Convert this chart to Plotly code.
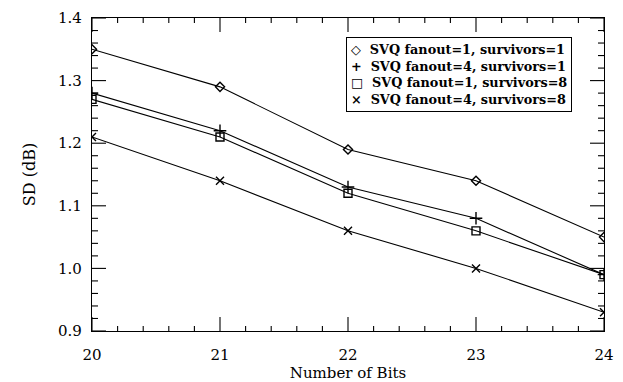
import plotly.graph_objects as go

bits = [20, 21, 22, 23, 24]
sd_f1_s1 = [1.35, 1.29, 1.19, 1.14, 1.05]
sd_f4_s1 = [1.28, 1.22, 1.13, 1.08, 0.99]
sd_f1_s8 = [1.27, 1.21, 1.12, 1.06, 0.99]
sd_f4_s8 = [1.21, 1.14, 1.06, 1.00, 0.93]
names = ["SVQ fanout=1, survivors=1", "SVQ fanout=4, survivors=1",
         "SVQ fanout=1, survivors=8", "SVQ fanout=4, survivors=8"]
legend_glyphs = ["◇", "+", "□", "×"]
symbols = ["diamond-open", "cross-thin-open", "square-open", "x-thin-open"]
sizes = [7, 9, 8, 8]

X_RANGE = [20, 24]
Y_RANGE = [0.9, 1.4]
x_major = [20, 21, 22, 23, 24]
y_major = [0.9, 1.0, 1.1, 1.2, 1.3, 1.4]
x_minor = [round(20 + 0.2 * i, 2) for i in range(21) if i % 5]
y_minor = [round(0.9 + 0.02 * i, 3) for i in range(26) if i % 5]

fig = go.Figure()
series = [sd_f1_s1, sd_f4_s1, sd_f1_s8, sd_f4_s8]
for ys, nm, sym, sz in zip(series, names, symbols, sizes):
    fig.add_trace(go.Scatter(x=bits, y=ys, name=nm, mode="lines+markers",
                             showlegend=False,
                             line=dict(color="black", width=1.1),
                             marker=dict(symbol=sym, size=sz, color="black",
                                         line=dict(color="black", width=1.4))))

font = "DejaVu Serif"
legend_text = "<br>".join(f"{g}  {n}" for g, n in zip(legend_glyphs, names))

# inward tick marks on all four sides, placed through the axes' own scales
tick_line = dict(color="black", width=1.1)
shapes = []
for xs, ln in [(x_major, 14), (x_minor, 5)]:
    for xv in xs:
        for anchor, sign in [(0, 1), (1, -1)]:
            shapes.append(dict(type="line", xref="x", yref="paper",
                               ysizemode="pixel", yanchor=anchor,
                               x0=xv, x1=xv, y0=0, y1=sign * ln,
                               line=tick_line, layer="above"))
for ys, ln in [(y_major, 14), (y_minor, 6)]:
    for yv in ys:
        for anchor, sign in [(0, 1), (1, -1)]:
            shapes.append(dict(type="line", xref="paper", yref="y",
                               xsizemode="pixel", xanchor=anchor,
                               y0=yv, y1=yv, x0=0, x1=sign * ln,
                               line=tick_line, layer="above"))

fig.update_layout(
    template="none",
    width=615, height=374,
    margin=dict(l=84, r=19, t=10, b=51),
    paper_bgcolor="white", plot_bgcolor="rgba(0,0,0,0)",
    font=dict(family=font, color="black", size=15),
    showlegend=False,
    shapes=shapes,
    annotations=[dict(text=legend_text, xref="paper", yref="paper",
                      x=0.496, y=0.939, xanchor="left", yanchor="top",
                      align="left", showarrow=False,
                      font=dict(family=font, size=12.8, weight="bold"),
                      bordercolor="black", borderwidth=1, borderpad=4,
                      bgcolor="white")],
    xaxis=dict(range=X_RANGE, tickmode="array", tickvals=x_major,
               ticks="", ticklabelstandoff=10, automargin=False,
               showline=True, linecolor="#000000", linewidth=1.3, mirror=True,
               showgrid=False, zeroline=False,
               title=dict(text="Number of Bits", font=dict(size=15))),
    yaxis=dict(range=Y_RANGE, tickmode="array", tickvals=y_major,
               tickformat=".1f", ticks="", ticklabelstandoff=6, automargin=False,
               showline=True, linecolor="#000000", linewidth=1.3, mirror=True,
               showgrid=False, zeroline=False,
               title=dict(text="SD (dB)", font=dict(size=16), standoff=18)),
)
fig.write_html("out.html")
